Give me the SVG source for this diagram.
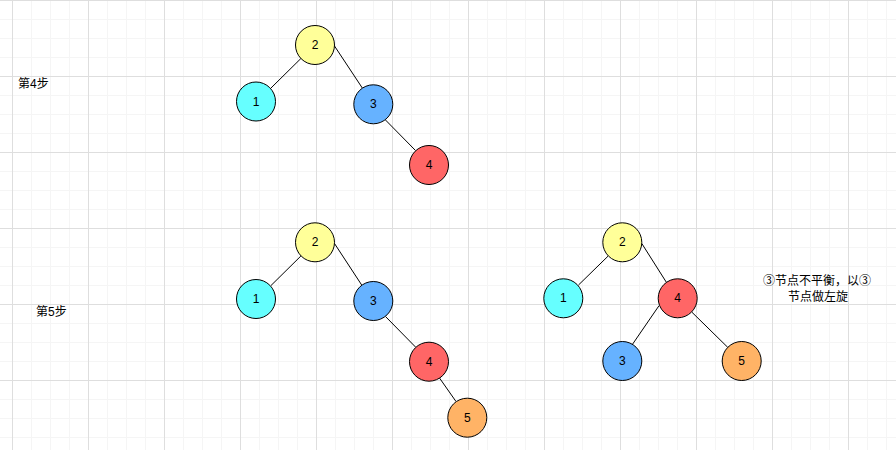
<svg xmlns="http://www.w3.org/2000/svg" width="896" height="450" viewBox="0 0 896 450">
<style>
.n{stroke:#000;stroke-width:1}
.t{font-family:"Liberation Sans","Noto Sans CJK SC",sans-serif;font-size:12px;fill:#000;text-anchor:middle;dominant-baseline:central}
.l{font-family:"Liberation Sans","Noto Sans CJK SC",sans-serif;font-size:12px;fill:#000}
.e{stroke:#000;stroke-width:1;fill:none}
.y{fill:#FFFF99}.c{fill:#66FFFF}.b{fill:#66B2FF}.r{fill:#FF6666}.o{fill:#FFB366}
</style>
<defs>
<pattern id="grid" x="12" y="0" width="76" height="76" patternUnits="userSpaceOnUse">
<path d="M19.5 0V76M38.5 0V76M57.5 0V76M0 19.5H76M0 38.5H76M0 57.5H76" stroke="#f5f5f5" stroke-width="1" fill="none"/>
<path d="M0.5 0V76M0 0.5H76" stroke="#dedede" stroke-width="1" fill="none"/>
</pattern>
</defs>
<rect width="896" height="450" fill="#fff"/>
<rect width="896" height="450" fill="url(#grid)"/>
<g id="connectors">
<line class="e" x1="300.9" y1="58.5" x2="271" y2="88"/>
<line class="e" x1="334.5" y1="46" x2="362.3" y2="88"/>
<line class="e" x1="385.5" y1="120" x2="415.5" y2="150.5"/>
<line class="e" x1="300.9" y1="256" x2="271" y2="285.5"/>
<line class="e" x1="334.5" y1="243.5" x2="362" y2="285.5"/>
<line class="e" x1="385.5" y1="316.5" x2="415.5" y2="347"/>
<line class="e" x1="439.5" y1="378" x2="456" y2="401.5"/>
<line class="e" x1="608.2" y1="256" x2="578.5" y2="285"/>
<line class="e" x1="641.8" y1="243.5" x2="666.5" y2="282.5"/>
<line class="e" x1="659" y1="305.7" x2="632" y2="345"/>
<line class="e" x1="691.6" y1="311.9" x2="727.8" y2="347.4"/>
</g>
<g id="s4-n2"><circle class="n y" cx="315" cy="45" r="19.5"/><text class="t" x="315" y="45">2</text></g>
<g id="s4-n1"><circle class="n c" cx="256" cy="101.5" r="19.5"/><text class="t" x="256" y="101.5">1</text></g>
<g id="s4-n3"><circle class="n b" cx="373.3" cy="104.3" r="19.5"/><text class="t" x="373.3" y="104.3">3</text></g>
<g id="s4-n4"><circle class="n r" cx="429" cy="165" r="19.5"/><text class="t" x="429" y="165">4</text></g>
<g id="s5-n2"><circle class="n y" cx="315" cy="242.3" r="19.5"/><text class="t" x="315" y="242.3">2</text></g>
<g id="s5-n1"><circle class="n c" cx="256" cy="299" r="19.5"/><text class="t" x="256" y="299">1</text></g>
<g id="s5-n3"><circle class="n b" cx="373.3" cy="301" r="19.5"/><text class="t" x="373.3" y="301">3</text></g>
<g id="s5-n4"><circle class="n r" cx="429" cy="361.7" r="19.5"/><text class="t" x="429" y="361.7">4</text></g>
<g id="s5-n5"><circle class="n o" cx="467.3" cy="417.7" r="19.5"/><text class="t" x="467.3" y="417.7">5</text></g>
<g id="r-n2"><circle class="n y" cx="622.3" cy="242.3" r="19.5"/><text class="t" x="622.3" y="242.3">2</text></g>
<g id="r-n1"><circle class="n c" cx="563.3" cy="298.3" r="19.5"/><text class="t" x="563.3" y="298.3">1</text></g>
<g id="r-n4"><circle class="n r" cx="677.7" cy="298.3" r="19.5"/><text class="t" x="677.7" y="298.3">4</text></g>
<g id="r-n3"><circle class="n b" cx="622.3" cy="361" r="19.5"/><text class="t" x="622.3" y="361">3</text></g>
<g id="r-n5"><circle class="n o" cx="741.7" cy="361" r="19.5"/><text class="t" x="741.7" y="361">5</text></g>
<g id="label-step4"><text class="l" x="18" y="87.5">第4步</text></g>
<g id="label-step5"><text class="l" x="36" y="315.5">第5步</text></g>
<g id="label-note"><text class="t" x="817"><tspan x="817" y="281">③节点不平衡，以③</tspan><tspan x="818" y="297">节点做左旋</tspan></text></g>
</svg>
